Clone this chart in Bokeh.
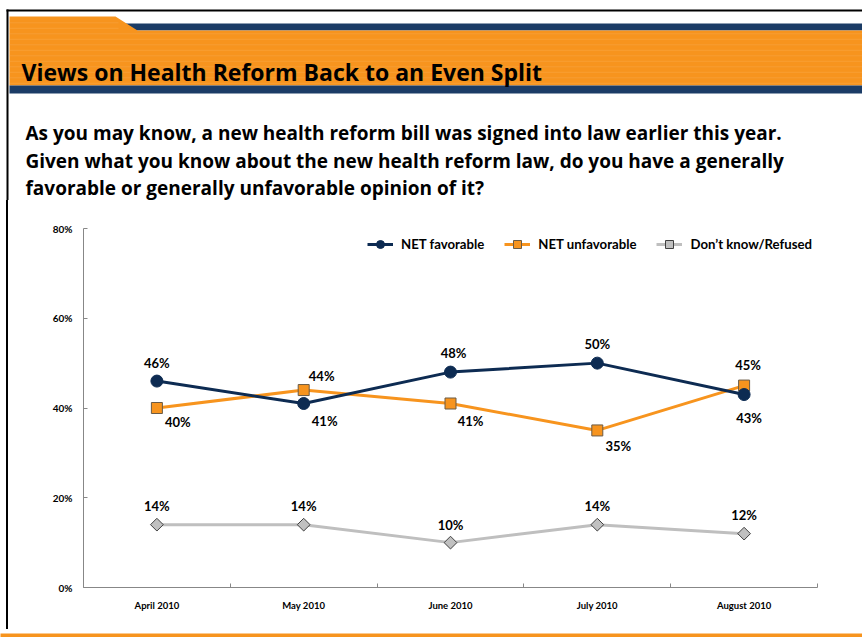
import numpy as np
from bokeh.plotting import figure
from bokeh.layouts import column, row
from bokeh.models import (Range1d, FixedTicker, PrintfTickFormatter, Legend, LegendItem,
                          ColumnDataSource, Div)
from bokeh.core.properties import value
from bokeh.embed import file_html
from bokeh.resources import INLINE

# ---------------- data ----------------
months = ["April 2010", "May 2010", "June 2010", "July 2010", "August 2010"]
net_favorable = [46, 41, 48, 50, 43]
net_unfavorable = [40, 44, 41, 35, 45]
dont_know = [14, 14, 10, 14, 12]
y_ticks = [0, 20, 40, 60, 80]
series_names = ["NET favorable", "NET unfavorable", "Don\u2019t know/Refused"]

title_text = "Views on Health Reform Back to an Even Split"
question_lines = [
    "As you may know, a new health reform bill was signed into law earlier this year.",
    "Given what you know about the new health reform law, do you have a generally",
    "favorable or generally unfavorable opinion of it?",
]

FONT = "Lato"
HFONT = "Open Sans"
NAVY = "#0D2B52"
ORANGE = "#F7941E"
GRAY = "#BFBFBF"
BAR_NAVY = "#1B3C66"

W, H = 862, 637
HEAD_H = 200
BOT_H = 8
CH_H = H - HEAD_H - BOT_H
STRIP_W = 10


def blank(width, height, xr, yr):
    f = figure(width=width, height=height, x_range=xr, y_range=yr,
               output_backend="svg", toolbar_location=None,
               min_border=0, min_border_left=0, min_border_right=0,
               min_border_top=0, min_border_bottom=0)
    f.axis.visible = False
    f.grid.visible = False
    f.outline_line_color = None
    f.background_fill_color = "white"
    f.border_fill_color = "white"
    return f


# ---------------- header ----------------
hd = blank(W, HEAD_H, Range1d(0, W), Range1d(HEAD_H, 0))
# frame lines
hd.quad(left=[6], right=[W], top=[9], bottom=[11], color="black", line_color=None)
hd.quad(left=[6], right=[8], top=[9], bottom=[HEAD_H], color="black", line_color=None)
# navy strip at top right
hd.quad(left=[120], right=[W], top=[23], bottom=[30], color=BAR_NAVY, line_color=None)
# orange band
hd.patch(x=[9, 115, 137, W, W, 9], y=[16, 16, 30, 30, 85, 85], color=ORANGE, line_color=None)
stripe_y = np.arange(33.3, 85, 5.5)
hd.segment(x0=[9] * len(stripe_y), x1=[W] * len(stripe_y), y0=stripe_y, y1=stripe_y,
           line_color="#FBB565", line_width=1, line_alpha=0.3)
stripe_y2 = np.arange(22.3, 31, 5.5)
hd.segment(x0=[9] * len(stripe_y2), x1=[118] * len(stripe_y2), y0=stripe_y2, y1=stripe_y2,
           line_color="#FBB565", line_width=1, line_alpha=0.3)
# navy bar under title
hd.quad(left=[9], right=[W], top=[85], bottom=[93], color=BAR_NAVY, line_color=None)
# title
hd.text(x=[21], y=[71.5], text=[title_text], text_font=value(HFONT), text_font_size="23px",
        text_font_style="bold", text_color="black", text_baseline="alphabetic")
# question
hd.text(x=[25] * 3, y=[132.5, 160, 187.5], text=question_lines, text_font=value(HFONT),
        text_font_size="19px", text_font_style="bold", text_color="black",
        text_baseline="alphabetic")

# ---------------- left border strip ----------------
strip = Div(text=f'<div style="position:absolute;left:6px;top:0;width:2px;height:{CH_H}px;'
                 f'background:#000;"></div>',
            width=STRIP_W, height=CH_H, margin=0,
            styles={"position": "relative", "background": "white"})

# ---------------- chart ----------------
xs = list(range(len(months)))
p = figure(width=W - STRIP_W, height=CH_H, x_range=Range1d(-0.5, len(months) - 0.5),
           y_range=Range1d(0, 80), output_backend="svg", toolbar_location=None,
           min_border_left=73, min_border_right=45, min_border_top=28, min_border_bottom=42)
p.grid.visible = False
p.outline_line_color = None
p.background_fill_color = "white"
p.border_fill_color = "white"

# axes
p.yaxis.ticker = FixedTicker(ticks=y_ticks)
p.yaxis.formatter = PrintfTickFormatter(format="%d%%")
p.yaxis.major_tick_in = 4
p.yaxis.major_tick_out = 0
p.yaxis.minor_tick_line_color = None
p.yaxis.major_tick_line_color = "#878787"
p.yaxis.major_label_standoff = 11
p.xaxis.ticker = FixedTicker(ticks=xs, minor_ticks=[i - 0.5 for i in range(len(months) + 1)])
p.xaxis.major_label_overrides = {i: m for i, m in enumerate(months)}
p.xaxis.major_tick_line_color = None
p.xaxis.minor_tick_line_color = "#878787"
p.xaxis.minor_tick_in = 4
p.xaxis.minor_tick_out = 0
p.xaxis.major_label_standoff = 6
for ax in (p.xaxis, p.yaxis):
    ax.axis_line_color = "#878787"
    ax.major_label_text_font = FONT
    ax.major_label_text_font_style = "bold"
    ax.major_label_text_color = "black"
p.yaxis.major_label_text_font_size = "10px"
p.xaxis.major_label_text_font_size = "9.5px"

src = ColumnDataSource(dict(x=xs, fav=net_favorable, unf=net_unfavorable, dk=dont_know,
                            ang=[np.pi / 4] * len(xs),
                            fav_t=[f"{v}%" for v in net_favorable],
                            unf_t=[f"{v}%" for v in net_unfavorable],
                            dk_t=[f"{v}%" for v in dont_know]))

l_dk = p.line("x", "dk", source=src, line_color=GRAY, line_width=3)
m_dk = p.scatter("x", "dk", source=src, marker="square", angle="ang", size=9,
                 fill_color="#C0C0C0", line_color="#404040", line_width=1)
l_unf = p.line("x", "unf", source=src, line_color=ORANGE, line_width=3)
m_unf = p.scatter("x", "unf", source=src, marker="square", size=11,
                  fill_color=ORANGE, line_color="#6B5B45", line_width=1)
l_fav = p.line("x", "fav", source=src, line_color=NAVY, line_width=3)
m_fav = p.scatter("x", "fav", source=src, marker="circle", size=12,
                  fill_color=NAVY, line_color=NAVY, line_width=1)

# value labels (pixel offsets only)
lab_kw = dict(text_font=value(FONT), text_font_size="13px", text_font_style="bold",
              text_color="black", text_align="center", text_baseline="middle")
fav_dx = [0, 21, 3, 0, 5]
fav_dy = [-18.5, 17, -19.5, -19.5, 23.5]
unf_dx = [21, 18, 20, 21, 4]
unf_dy = [13.5, -14.5, 17, 16, -21]
dk_dx = [0, 0, 0, 0, 0]
dk_dy = [-19, -19, -18, -19, -19]
for col, dx, dy in (("fav", fav_dx, fav_dy), ("unf", unf_dx, unf_dy), ("dk", dk_dx, dk_dy)):
    s = ColumnDataSource(dict(x=xs, y=src.data[col], t=src.data[col + "_t"], dx=dx, dy=dy))
    p.text("x", "y", text="t", x_offset="dx", y_offset="dy", source=s, **lab_kw)

legend = Legend(items=[LegendItem(label=series_names[0], renderers=[l_fav, m_fav]),
                       LegendItem(label=series_names[1], renderers=[l_unf, m_unf]),
                       LegendItem(label=series_names[2], renderers=[l_dk, m_dk])],
                orientation="horizontal", location=(284, 333), padding=0, margin=0,
                spacing=20, glyph_width=26, glyph_height=20, label_standoff=8,
                label_text_font=FONT, label_text_font_style="bold",
                label_text_font_size="13.2px", label_text_color="black",
                border_line_color=None, background_fill_alpha=0)
p.add_layout(legend, "center")

# ---------------- bottom bar ----------------
bot = blank(W, BOT_H, Range1d(0, W), Range1d(0, BOT_H))
bot.background_fill_color = ORANGE
bot.border_fill_color = ORANGE

layout = column(hd, row(strip, p, spacing=0), bot, spacing=0)
open("out.html", "w").write(file_html(layout, INLINE))
